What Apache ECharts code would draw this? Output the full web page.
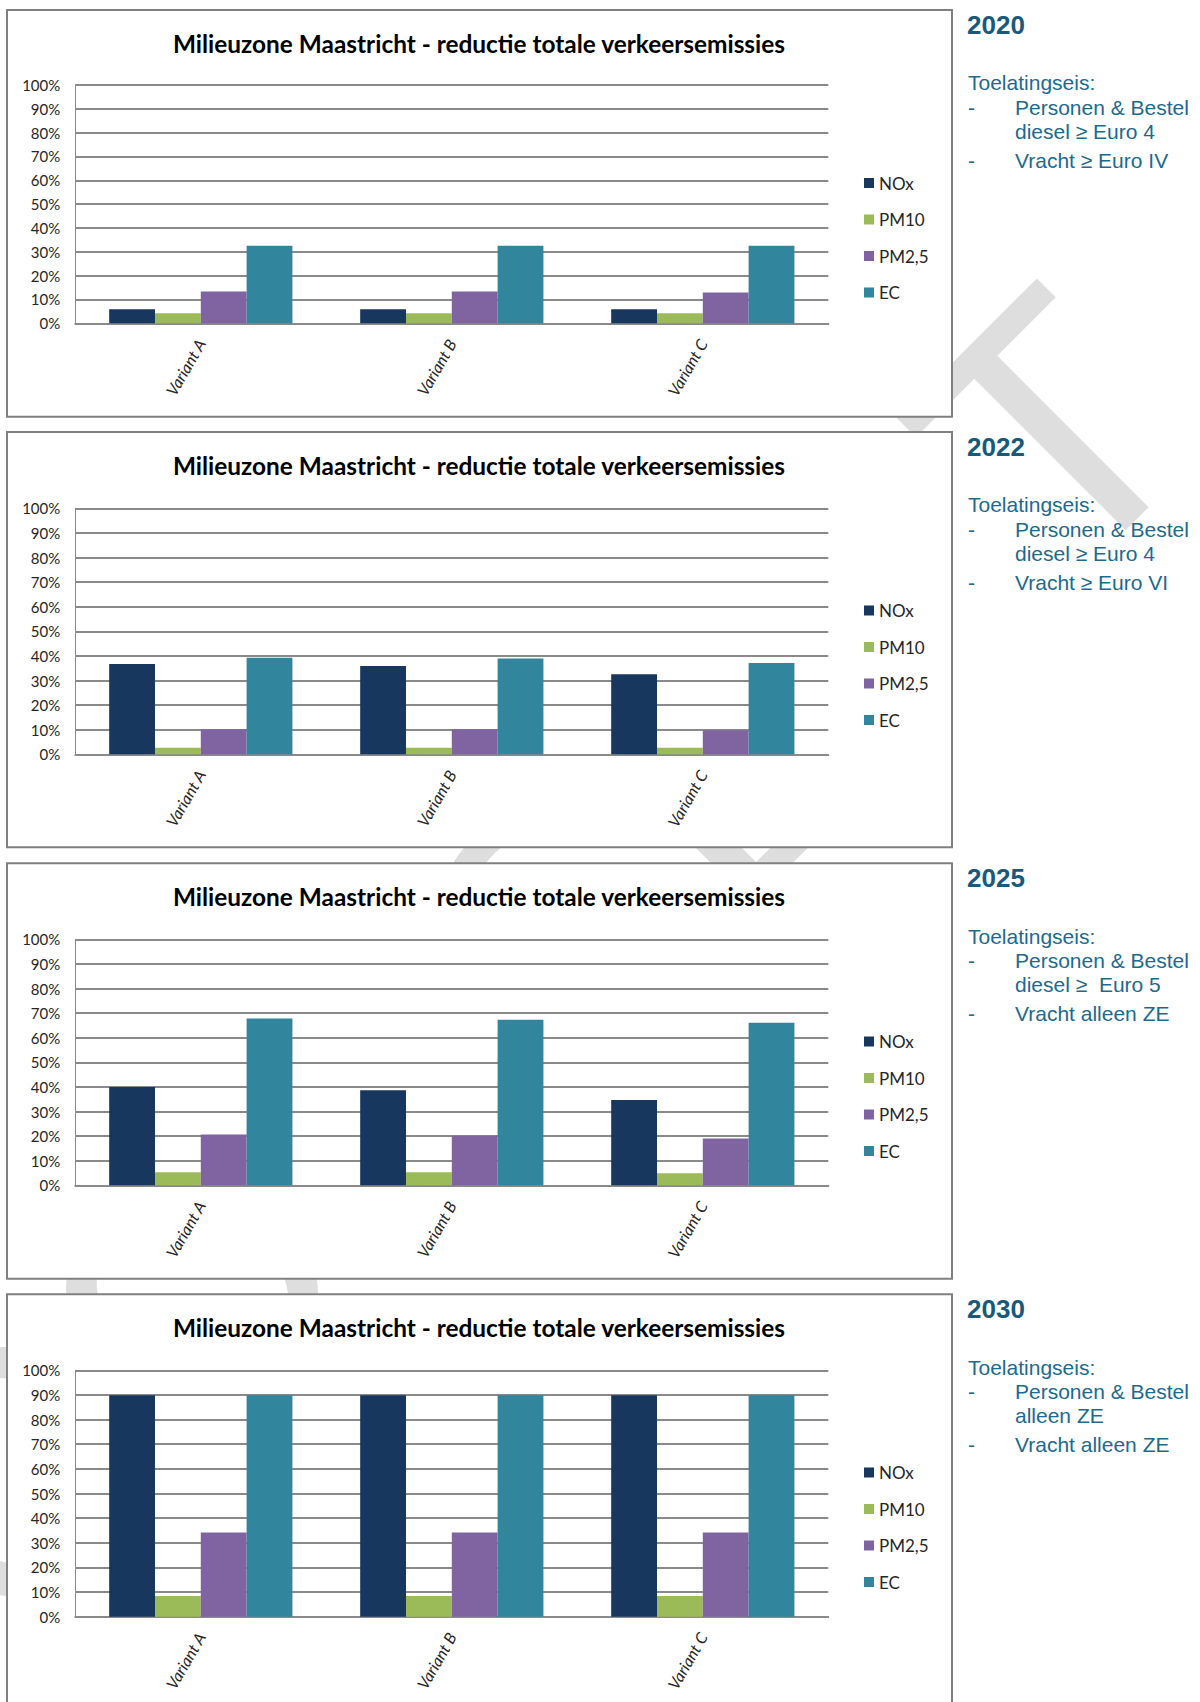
<!DOCTYPE html>
<html><head><meta charset="utf-8">
<script src="https://cdn.jsdelivr.net/npm/echarts@6/dist/echarts.min.js"></script>
<style>html,body{margin:0;padding:0;background:#fff}#c{width:1200px;height:1702px}</style>
</head><body><div id="c"></div>
<script>
// ---- data ----
const categories = ['Variant A', 'Variant B', 'Variant C'];
const pollutants = ['NOx', 'PM10', 'PM2,5', 'EC'];
const years = ['2020', '2022', '2025', '2030'];
const chartTitle = 'Milieuzone Maastricht - reductie totale verkeersemissies';

const nox2020 = [5.9, 5.9, 5.9];
const pm10_2020 = [4.2, 4.2, 4.2];
const pm25_2020 = [13.3, 13.3, 12.9];
const ec2020 = [32.5, 32.5, 32.5];

const nox2022 = [36.7, 35.9, 32.5];
const pm10_2022 = [2.7, 2.7, 2.7];
const pm25_2022 = [10.2, 10.2, 9.8];
const ec2022 = [39.2, 38.9, 37.1];

const nox2025 = [40.0, 38.6, 34.7];
const pm10_2025 = [5.3, 5.3, 4.9];
const pm25_2025 = [20.6, 20.1, 19.0];
const ec2025 = [67.8, 67.3, 66.1];

const nox2030 = [89.9, 89.9, 89.9];
const pm10_2030 = [8.4, 8.4, 8.4];
const pm25_2030 = [34.2, 34.2, 34.2];
const ec2030 = [89.9, 89.9, 89.9];

const notes2020 = ['Personen & Bestel', 'diesel \u2265 Euro 4', 'Vracht \u2265 Euro IV'];
const notes2022 = ['Personen & Bestel', 'diesel \u2265 Euro 4', 'Vracht \u2265 Euro VI'];
const notes2025 = ['Personen & Bestel', 'diesel \u2265  Euro 5', 'Vracht alleen ZE'];
const notes2030 = ['Personen & Bestel', 'alleen ZE', 'Vracht alleen ZE'];
const noteHeading = 'Toelatingseis:';
const watermark = 'CONCEPT';

// ---- layout (styles / positions) ----
const colors = ['#17375e', '#9bbb59', '#8064a2', '#31859c'];
const boxes = [
  {top: 10, h: 406.7, plotTop: 85, plotH: 238.3, legTop: 174.5},
  {top: 432, h: 415.3, plotTop: 508.3, plotH: 246, legTop: 602},
  {top: 863.3, h: 415.4, plotTop: 939.3, plotH: 246, legTop: 1033},
  {top: 1294.3, h: 415, plotTop: 1370.3, plotH: 246.4, legTop: 1464}
];
const seriesData = [
  [nox2020, pm10_2020, pm25_2020, ec2020],
  [nox2022, pm10_2022, pm25_2022, ec2022],
  [nox2025, pm10_2025, pm25_2025, ec2025],
  [nox2030, pm10_2030, pm25_2030, ec2030]
];
const notes = [notes2020, notes2022, notes2025, notes2030];

const chartFont = 'Lato';
const sideFont = '"Liberation Sans", Arial, sans-serif';
const textDark = '#262626';
const gridGrey = '#8a8a8a';
const sideColor = '#1c6a8e';

const grid = [], xAxis = [], yAxis = [], series = [], legend = [], graphic = [];

graphic.push({
  type: 'text', x: 522, y: 962, rotation: Math.PI / 4, z: -10, silent: true,
  style: {text: watermark, font: '350px "Liberation Sans", Arial, sans-serif', fill: '#dedede',
          align: 'center', verticalAlign: 'middle'}
});

boxes.forEach((b, i) => {
  graphic.push({
    type: 'rect', z: -5, silent: true,
    shape: {x: 7, y: b.top, width: 945, height: b.h},
    style: {fill: '#ffffff', stroke: '#808080', lineWidth: 2}
  });
  graphic.push({
    type: 'text', z: 5, x: 479, y: b.top + 33.5,
    style: {text: chartTitle, font: 'bold 24.4px ' + chartFont, fill: '#000000', align: 'center', verticalAlign: 'middle'}
  });
  const yy = b.top;
  const line = (x, y, t, font, fill) => graphic.push({type: 'text', x: x, y: yy + y,
    style: {text: t, font: font, fill: fill, align: 'left', verticalAlign: 'middle'}});
  line(967, 15, years[i], 'bold 26px ' + sideFont, '#175a7c');
  line(968, 72.8, noteHeading, '21px ' + sideFont, sideColor);
  line(968, 97.4, '-', '21px ' + sideFont, sideColor);
  line(1015, 97.4, notes[i][0], '21px ' + sideFont, sideColor);
  line(1015, 121, notes[i][1], '21px ' + sideFont, sideColor);
  line(968, 150.6, '-', '21px ' + sideFont, sideColor);
  line(1015, 150.6, notes[i][2], '21px ' + sideFont, sideColor);

  grid.push({left: 75.3, width: 753, top: b.plotTop, height: b.plotH, containLabel: false});
  xAxis.push({
    type: 'category', gridIndex: i, data: categories,
    axisLine: {show: true, lineStyle: {color: gridGrey, width: 2}},
    axisTick: {show: false},
    axisLabel: {rotate: 60, interval: 0, margin: 17, fontFamily: chartFont, fontStyle: 'italic', fontSize: 16, color: textDark}
  });
  yAxis.push({
    type: 'value', gridIndex: i, min: 0, max: 100, interval: 10,
    axisLine: {show: true, lineStyle: {color: gridGrey, width: 1}},
    axisTick: {show: false},
    splitLine: {show: true, lineStyle: {color: gridGrey, width: 2}},
    axisLabel: {formatter: '{value}%', margin: 15, fontFamily: chartFont, fontSize: 15, color: textDark}
  });
  pollutants.forEach((p, k) => {
    series.push({
      type: 'bar', name: p, xAxisIndex: i, yAxisIndex: i,
      data: seriesData[i][k], barGap: '0%', barCategoryGap: '27%',
      itemStyle: {color: colors[k]}
    });
  });
  legend.push({
    orient: 'vertical', left: 864, top: b.legTop, padding: 0,
    itemWidth: 10, itemHeight: 10, itemGap: 19.5, icon: 'rect',
    textStyle: {fontFamily: chartFont, fontSize: 17, color: textDark, lineHeight: 16},
    data: pollutants, selectedMode: false
  });
});

const chart = echarts.init(document.getElementById('c'), null, {renderer: 'svg'});
chart.setOption({
  animation: false,
  backgroundColor: '#ffffff',
  color: colors,
  grid, xAxis, yAxis, series, legend, graphic
});
</script></body></html>
